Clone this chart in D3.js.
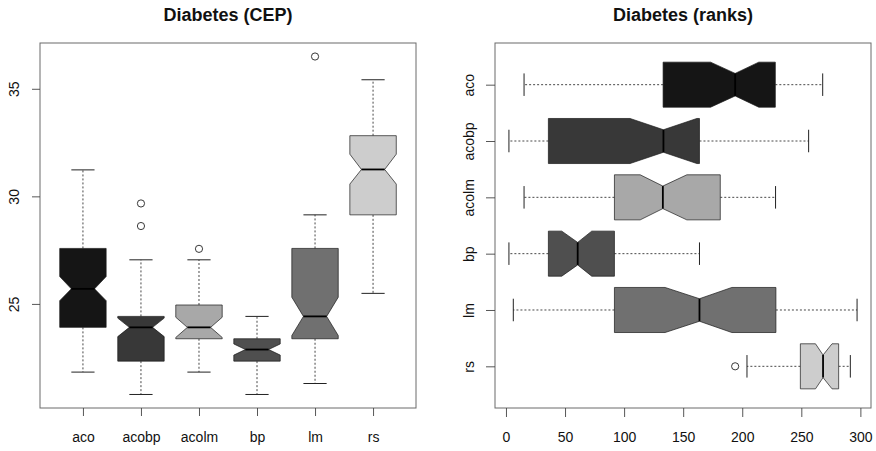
<!DOCTYPE html>
<html>
<head>
<meta charset="utf-8">
<script src="https://cdn.jsdelivr.net/npm/d3@7"></script>
<style>
  body { margin: 0; background: #fff; }
  svg { font-family: "Liberation Sans", Arial, Helvetica, sans-serif; }
</style>
</head>
<body>
<svg id="chart" width="876" height="451"></svg>
<script>
const methods = ["aco", "acobp", "acolm", "bp", "lm", "rs"];

// left panel: CEP
const cepLow     = [21.83, 20.79, 21.83, 20.79, 21.30, 25.49];
const cepQ1      = [23.91, 22.34, 23.38, 22.34, 23.38, 29.14];
const cepNotchLo = [25.15, 23.48, 23.44, 22.62, 23.53, 30.57];
const cepMedian  = [25.70, 23.91, 23.91, 22.88, 24.42, 31.25];
const cepNotchHi = [26.27, 24.34, 24.38, 23.14, 25.31, 31.96];
const cepQ3      = [27.58, 24.42, 24.95, 23.38, 27.58, 32.82];
const cepHigh    = [31.23, 27.05, 27.05, 24.42, 29.14, 35.42];
const cepOutliers = [[], [28.62, 29.67], [27.56], [], [36.5], []];
const cepTicks = [25, 30, 35];

// right panel: ranks
const rankLow     = [15.3, 2.5, 15.3, 2.5, 6.2, 204];
const rankQ1      = [133, 35.9, 91.8, 35.9, 91.8, 249.2];
const rankNotchLo = [173.2, 105, 113.6, 47.2, 134.7, 262];
const rankMedian  = [194, 133.3, 132.8, 60.7, 163.8, 268.4];
const rankNotchHi = [214, 161.6, 153.1, 72.6, 191.2, 276];
const rankQ3      = [228, 163.8, 181.4, 91.8, 228.5, 281.6];
const rankHigh    = [268.1, 256.2, 228.2, 163.8, 297.2, 291.5];
const rankOutliers = [[], [], [], [], [], [194]];
const rankTicks = [0, 50, 100, 150, 200, 250, 300];

const fills = ["#151515", "#383838", "#a8a8a8", "#4f4f4f", "#707070", "#cdcdcd"];

const svg = d3.select("#chart");

function buildStats(low, q1, nlo, med, nhi, q3, high, outl) {
  return methods.map((m, i) => ({
    name: m, pos: i + 1,
    low: low[i], q1: q1[i], nlo: nlo[i], med: med[i],
    nhi: nhi[i], q3: q3[i], high: high[i], out: outl[i]
  }));
}

// R style range: data extent padded by 4%
function paddedExtent(stats) {
  const vals = [];
  stats.forEach(s => { vals.push(s.low, s.high, ...s.out); });
  const [lo, hi] = d3.extent(vals);
  const pad = (hi - lo) * 0.04;
  return [lo - pad, hi + pad];
}

function drawPanel(opts) {
  const { left, right, top, bottom, stats, vertical, title, ticks } = opts;
  const g = svg.append("g");
  const n = stats.length;

  const valScale = d3.scaleLinear().domain(paddedExtent(stats))
    .range(vertical ? [bottom, top] : [left, right]);
  const catScale = d3.scaleLinear().domain([0.26, n + 0.74])
    .range(vertical ? [left, right] : [top, bottom]);

  // point at category offset c (in units of half box width) and value v
  const wid = 0.4;
  const pt = (s, c, v) => vertical
    ? [catScale(s.pos + c * wid), valScale(v)]
    : [valScale(v), catScale(s.pos + c * wid)];

  const line = d3.line();

  const box = g.selectAll("g.box").data(stats).enter()
    .append("g").classed("box", true);

  // whiskers
  box.append("path")
    .attr("d", s => line([pt(s, 0, s.q1), pt(s, 0, s.low)]) + line([pt(s, 0, s.q3), pt(s, 0, s.high)]))
    .attr("fill", "none")
    .attr("stroke", "#333")
    .attr("stroke-width", 0.9)
    .attr("stroke-dasharray", "2,2");

  // staples
  box.append("path")
    .attr("d", s => line([pt(s, -0.5, s.low), pt(s, 0.5, s.low)]) + line([pt(s, -0.5, s.high), pt(s, 0.5, s.high)]))
    .attr("fill", "none")
    .attr("stroke", "#222")
    .attr("stroke-width", 1);

  // notched box
  box.append("path")
    .attr("d", s => line([
      pt(s, -1, s.q1), pt(s, -1, s.nlo), pt(s, -0.5, s.med), pt(s, -1, s.nhi), pt(s, -1, s.q3),
      pt(s, 1, s.q3), pt(s, 1, s.nhi), pt(s, 0.5, s.med), pt(s, 1, s.nlo), pt(s, 1, s.q1)
    ]) + "Z")
    .attr("fill", (s, i) => fills[i])
    .attr("stroke", "#1a1a1a")
    .attr("stroke-width", 0.7);

  // median
  box.append("path")
    .attr("d", s => line([pt(s, -0.5, s.med), pt(s, 0.5, s.med)]))
    .attr("stroke", "#000")
    .attr("stroke-width", 1.8);

  // outliers
  box.selectAll("circle")
    .data(s => s.out.map(v => pt(s, 0, v)))
    .enter().append("circle")
    .attr("cx", d => d[0])
    .attr("cy", d => d[1])
    .attr("r", 3.6)
    .attr("fill", "none")
    .attr("stroke", "#222")
    .attr("stroke-width", 0.9);

  // frame
  g.append("rect")
    .attr("x", left).attr("y", top)
    .attr("width", right - left).attr("height", bottom - top)
    .attr("fill", "none")
    .attr("stroke", "#6a6a6a")
    .attr("stroke-width", 1);

  const catAxisScale = catScale;
  const cats = stats.map(s => s.pos);

  let yAxis, xAxis;
  if (vertical) {
    yAxis = d3.axisLeft(valScale).tickValues(ticks).tickSize(8).tickFormat(d3.format("d"));
    xAxis = d3.axisBottom(catAxisScale).tickValues(cats).tickSize(8).tickFormat((d, i) => methods[i]);
  } else {
    yAxis = d3.axisLeft(catAxisScale).tickValues(cats).tickSize(9).tickFormat((d, i) => methods[i]);
    xAxis = d3.axisBottom(valScale).tickValues(ticks).tickSize(9).tickFormat(d3.format("d"));
  }

  const gy = g.append("g").attr("transform", `translate(${left},0)`).call(yAxis);
  const gx = g.append("g").attr("transform", `translate(0,${bottom})`).call(xAxis);

  [gx, gy].forEach(a => {
    a.select(".domain").remove();
    a.selectAll(".tick line").attr("stroke", "#444").attr("stroke-width", 0.9);
    a.selectAll(".tick text")
      .attr("fill", "#111")
      .style("font-size", "14px");
  });

  gx.selectAll(".tick text").attr("y", 34).attr("dy", 0);
  gy.selectAll(".tick text")
    .attr("transform", "rotate(-90)")
    .attr("text-anchor", "middle")
    .attr("x", 0)
    .attr("y", -21)
    .attr("dy", 0);

  g.append("text")
    .attr("x", (left + right) / 2)
    .attr("y", 21)
    .attr("text-anchor", "middle")
    .style("font-size", "18px")
    .style("font-weight", "bold")
    .attr("fill", "#111")
    .text(title);
}

drawPanel({
  left: 40, right: 416, top: 43, bottom: 408,
  stats: buildStats(cepLow, cepQ1, cepNotchLo, cepMedian, cepNotchHi, cepQ3, cepHigh, cepOutliers),
  vertical: true, title: "Diabetes (CEP)", ticks: cepTicks
});

drawPanel({
  left: 495, right: 871, top: 43, bottom: 408,
  stats: buildStats(rankLow, rankQ1, rankNotchLo, rankMedian, rankNotchHi, rankQ3, rankHigh, rankOutliers),
  vertical: false, title: "Diabetes (ranks)", ticks: rankTicks
});
</script>
</body>
</html>
